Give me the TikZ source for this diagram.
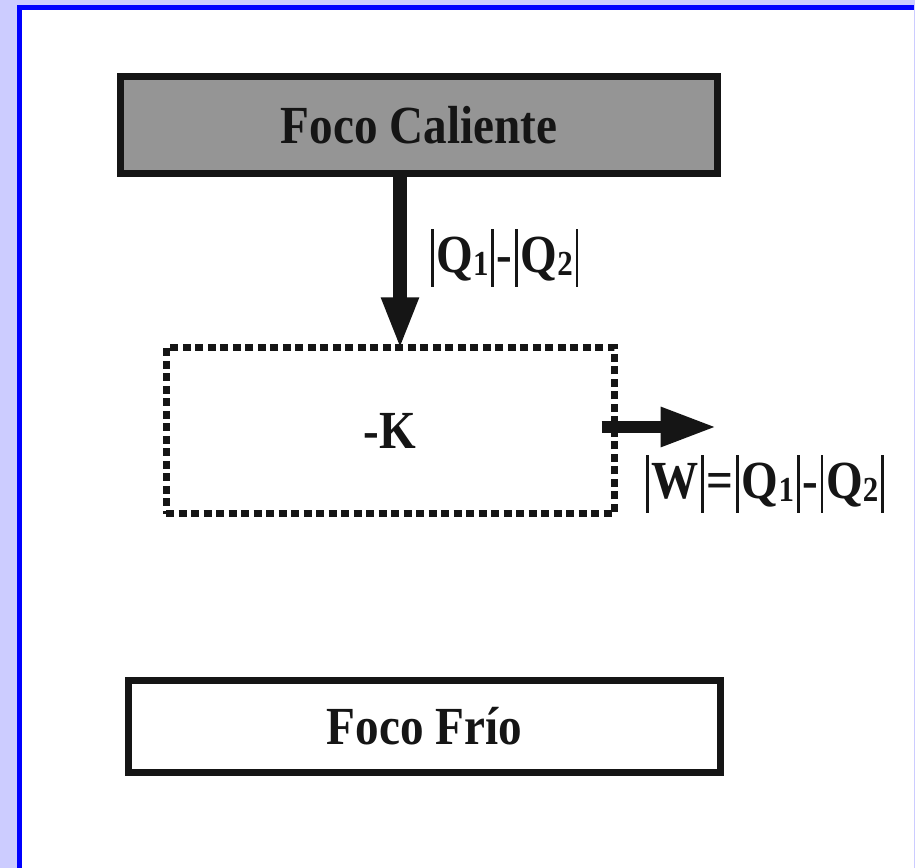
\documentclass[tikz,border=0pt]{standalone}
\usepackage{fontspec}
\setmainfont[FakeStretch=0.88]{Liberation Serif}
\usetikzlibrary{arrows.meta,positioning,calc}

\definecolor{lavanda}{HTML}{CCCCFF}
\definecolor{gris}{HTML}{959595}
\definecolor{negro}{HTML}{151515}

% barra de valor absoluto y subindice
\newcommand{\barra}{\kern0.05em\rule[-0.26em]{1.6pt}{1.08em}\kern0.05em}
\newcommand{\subi}[1]{\raisebox{-0.04em}{\fontsize{20}{20}\selectfont #1}}

\tikzset{
  foco/.style={draw=negro, line width=0.14cm, inner sep=0pt, text=negro,
    font=\fontsize{30.5}{36}\selectfont\bfseries},
  maquina/.style={draw=negro, line width=0.14cm, dash pattern=on 0.16cm off 0.09cm,
    minimum width=8.96cm, minimum height=3.32cm, inner sep=0pt, text=negro,
    font=\fontsize{30.5}{36}\selectfont\bfseries},
  flujo/.style={draw=negro, line width=0.28cm, -{Triangle[length=1.04cm,width=0.68cm]}},
  salida/.style={draw=negro, line width=0.24cm, -{Triangle[length=1.12cm,width=0.74cm]}},
  etiqueta/.style={inner sep=0pt, text=negro, font=\fontsize{30.5}{36}\selectfont\bfseries}
}

\begin{document}
\begin{tikzpicture}
  %%%%% START %%%%%
  \useasboundingbox (0,0) rectangle (18.3,17.36);

  % fondo y marco
  \fill[lavanda] (0,0) rectangle (18.3,17.36);
  \fill[blue] (0.34,0) rectangle (18.27,17.26);
  \fill[white] (0.44,0) rectangle (18.27,17.16);

  % focos y maquina
  \node[foco, fill=gris, minimum width=11.94cm, minimum height=1.94cm] (caliente) at (8.38,14.86) {Foco Caliente};
  \node[maquina] (motor) at (7.8,8.74) {-K};
  \node[foco, fill=white, minimum width=11.84cm, minimum height=1.84cm] (frio) at (8.49,2.83) {Foco Frío};

  % calor que entra
  \coordinate (eje) at (8,0);
  \draw[flujo, shorten >=-0.1cm] (caliente.south -| eje) -- (motor.north -| eje);
  \node[etiqueta, anchor=base west] (calor) at (8.56,11.9) {\barra Q\subi{1}\barra-\barra Q\subi{2}\barra};

  % trabajo que sale
  \coordinate (sale) at ($(motor.east)+(-0.32,0.08)$);
  \coordinate (w) at ($(sale)+(2.3,0)$);
  \draw[salida] (sale) -- (w);
  \node[etiqueta, anchor=base west] (trabajo) at (12.86,7.38) {\barra W\barra=\barra Q\subi{1}\barra-\barra Q\subi{2}\barra};

  %%%%% END %%%%%
\end{tikzpicture}
\end{document}
